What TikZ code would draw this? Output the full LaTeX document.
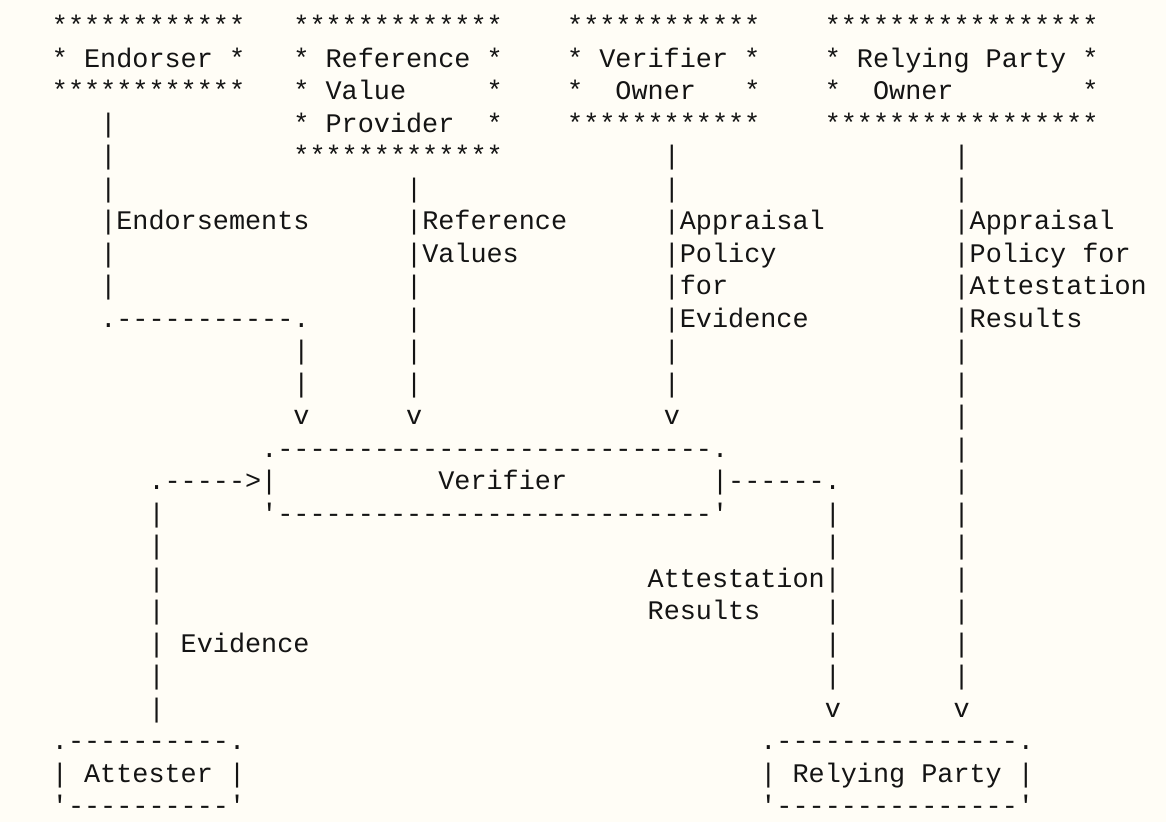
\documentclass[tikz,border=0pt]{standalone}
\usepackage{fontspec}
\setmonofont{Liberation Mono}
\definecolor{paper}{RGB}{255,253,246}
\definecolor{ink}{RGB}{20,20,20}
% one character cell of the ASCII grid: 16.1pt wide, 32.5pt high
\newcommand\cellx[1]{51.95+16.1*#1}
\newcommand\celly[1]{34.5+32.5*#1}
% \seg{name}{row}{column}{characters}
\newcommand\seg[4]{\node[seg] (#1) at ({\cellx{#3}},{\celly{#2}}) {#4};}
\begin{document}
\begin{tikzpicture}[x=1pt,y=-1pt,
  seg/.style={anchor=base west,inner sep=0pt,outer sep=0pt,text=ink,
    font=\ttfamily\fontsize{26.83}{32.5}\selectfont}]
\fill[paper] (0,0) rectangle (1166,822);
\useasboundingbox (0,0) rectangle (1166,822);
% row 0
\seg{e0}{0}{0}{************}
\seg{rv0}{0}{15}{*************}
\seg{vo0}{0}{32}{************}
\seg{ro0}{0}{48}{*****************}
% row 1
\seg{e1}{1}{0}{* Endorser *}
\seg{rv1}{1}{15}{* Reference *}
\seg{vo1}{1}{32}{* Verifier *}
\seg{ro1}{1}{48}{* Relying Party *}
% row 2
\seg{e2}{2}{0}{************}
\seg{rv2a}{2}{15}{* Value}
\seg{rv2b}{2}{27}{*}
\seg{vo2a}{2}{32}{*}
\seg{vo2b}{2}{35}{Owner}
\seg{vo2c}{2}{43}{*}
\seg{ro2a}{2}{48}{*}
\seg{ro2b}{2}{51}{Owner}
\seg{ro2c}{2}{64}{*}
% row 3
\seg{p3a}{3}{3}{|}
\seg{rv3a}{3}{15}{* Provider}
\seg{rv3b}{3}{27}{*}
\seg{vo3}{3}{32}{************}
\seg{ro3}{3}{48}{*****************}
% row 4
\seg{p4a}{4}{3}{|}
\seg{rv4}{4}{15}{*************}
\seg{p4c}{4}{38}{|}
\seg{p4d}{4}{56}{|}
% row 5
\seg{p5a}{5}{3}{|}
\seg{p5b}{5}{22}{|}
\seg{p5c}{5}{38}{|}
\seg{p5d}{5}{56}{|}
% rows 6-9: flow labels
\seg{l6a}{6}{3}{|Endorsements}
\seg{l6b}{6}{22}{|Reference}
\seg{l6c}{6}{38}{|Appraisal}
\seg{l6d}{6}{56}{|Appraisal}
\seg{l7a}{7}{3}{|}
\seg{l7b}{7}{22}{|Values}
\seg{l7c}{7}{38}{|Policy}
\seg{l7d}{7}{56}{|Policy for}
\seg{l8a}{8}{3}{|}
\seg{l8b}{8}{22}{|}
\seg{l8c}{8}{38}{|for}
\seg{l8d}{8}{56}{|Attestation}
\seg{l9a}{9}{3}{.-----------.}
\seg{l9b}{9}{22}{|}
\seg{l9c}{9}{38}{|Evidence}
\seg{l9d}{9}{56}{|Results}
% rows 10-12
\seg{p10a}{10}{15}{|}
\seg{p10b}{10}{22}{|}
\seg{p10c}{10}{38}{|}
\seg{p10d}{10}{56}{|}
\seg{p11a}{11}{15}{|}
\seg{p11b}{11}{22}{|}
\seg{p11c}{11}{38}{|}
\seg{p11d}{11}{56}{|}
\seg{v12a}{12}{15}{v}
\seg{v12b}{12}{22}{v}
\seg{v12c}{12}{38}{v}
\seg{p12d}{12}{56}{|}
% Verifier box
\seg{vb13}{13}{13}{.---------------------------.}
\seg{p13d}{13}{56}{|}
\seg{ev14}{14}{6}{.----->|}
\seg{vb14}{14}{24}{Verifier}
\seg{ar14}{14}{41}{|------.}
\seg{p14d}{14}{56}{|}
\seg{p15a}{15}{6}{|}
\seg{vb15}{15}{13}{'---------------------------'}
\seg{p15c}{15}{48}{|}
\seg{p15d}{15}{56}{|}
% rows 16-21
\seg{p16a}{16}{6}{|}
\seg{p16c}{16}{48}{|}
\seg{p16d}{16}{56}{|}
\seg{p17a}{17}{6}{|}
\seg{l17c}{17}{37}{Attestation|}
\seg{p17d}{17}{56}{|}
\seg{p18a}{18}{6}{|}
\seg{l18c}{18}{37}{Results}
\seg{p18c}{18}{48}{|}
\seg{p18d}{18}{56}{|}
\seg{l19a}{19}{6}{| Evidence}
\seg{p19c}{19}{48}{|}
\seg{p19d}{19}{56}{|}
\seg{p20a}{20}{6}{|}
\seg{p20c}{20}{48}{|}
\seg{p20d}{20}{56}{|}
\seg{p21a}{21}{6}{|}
\seg{v21c}{21}{48}{v}
\seg{v21d}{21}{56}{v}
% Attester and Relying Party boxes
\seg{at22}{22}{0}{.----------.}
\seg{rp22}{22}{44}{.---------------.}
\seg{at23}{23}{0}{| Attester |}
\seg{rp23}{23}{44}{| Relying Party |}
\seg{at24}{24}{0}{'----------'}
\seg{rp24}{24}{44}{'---------------'}
\end{tikzpicture}
\end{document}
